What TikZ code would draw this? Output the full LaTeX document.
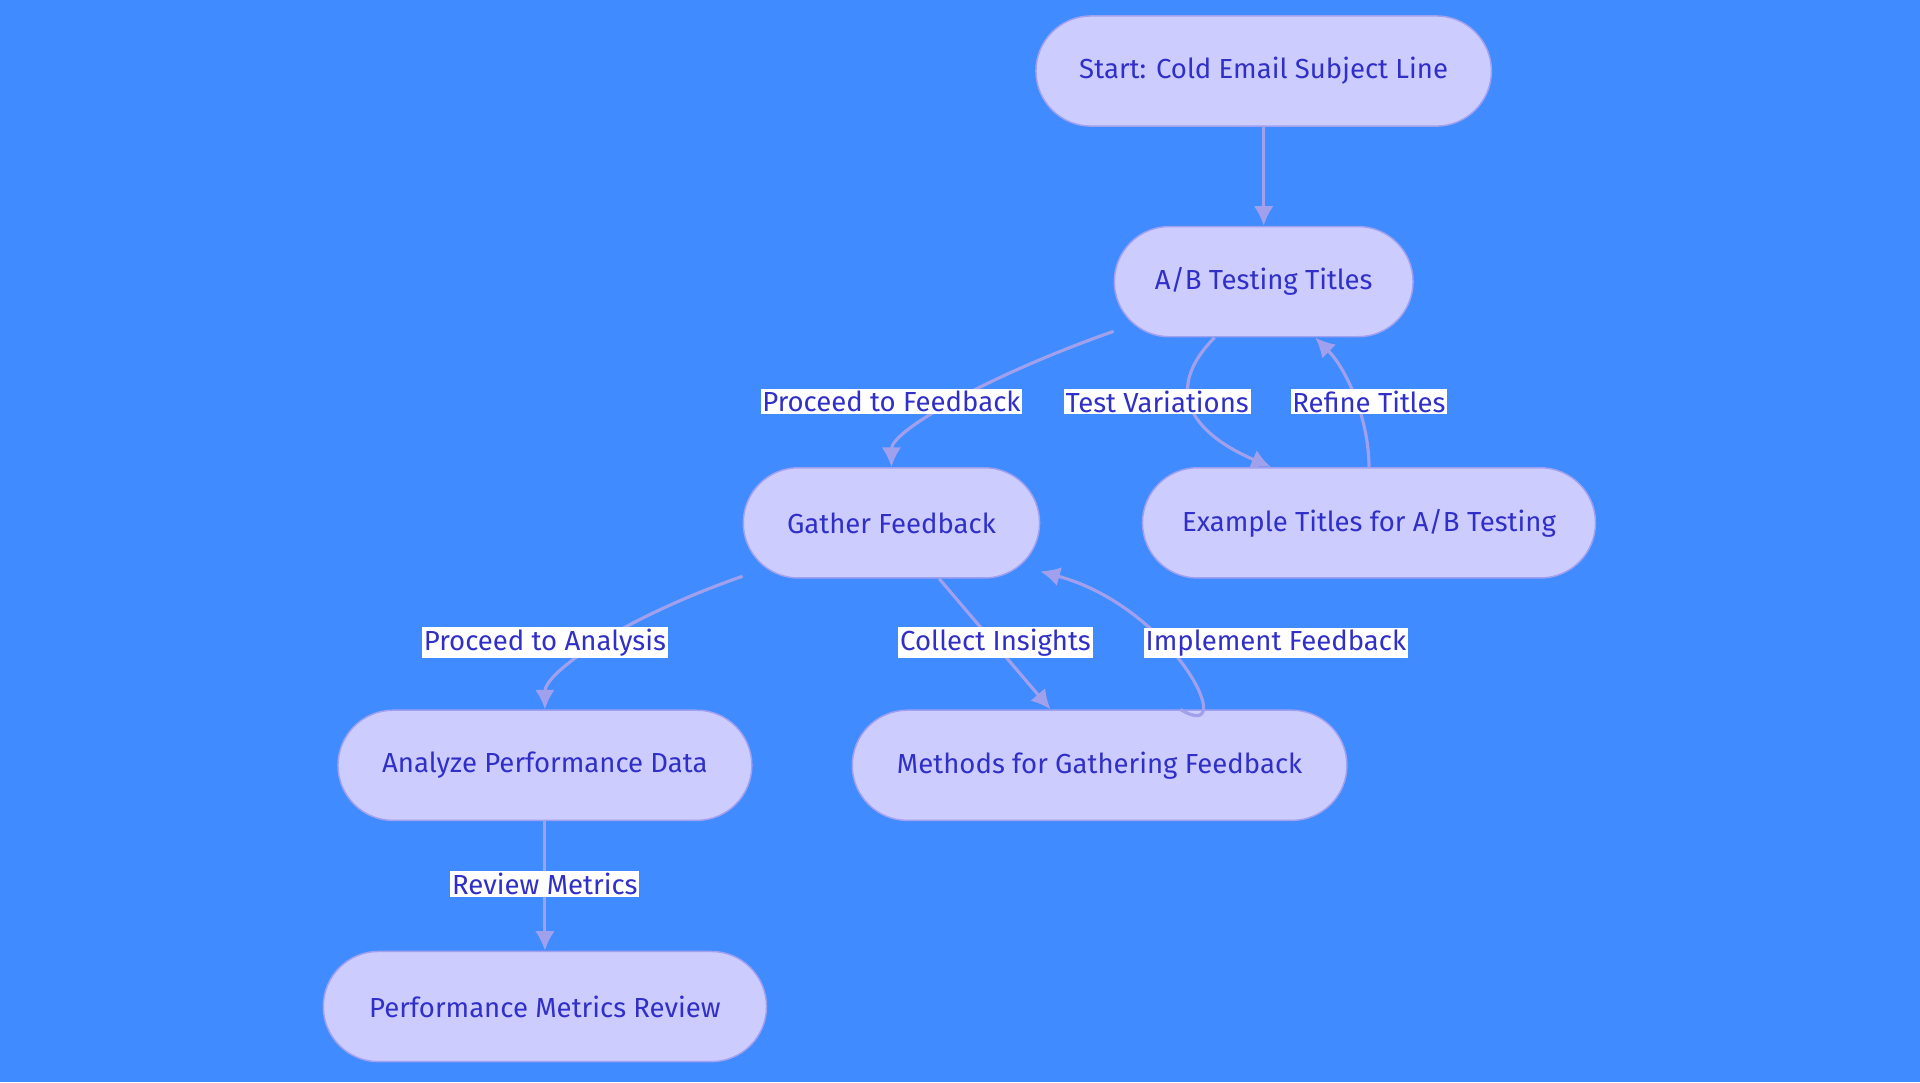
\documentclass[tikz,border=0pt]{standalone}
\usepackage{fontspec}
\setmainfont{Fira Sans}
\usetikzlibrary{calc,arrows.meta}
\definecolor{bg}{HTML}{408BFF}
\definecolor{nf}{HTML}{CCCCFF}
\definecolor{ns}{HTML}{A0A0F0}
\definecolor{tx}{HTML}{3030C8}
\definecolor{ed}{HTML}{A0A0EC}
\begin{document}
\begin{tikzpicture}[x=1pt,y=1pt,
 box/.style={draw=ns,line width=1.2pt,fill=nf,rounded corners=45pt,minimum height=90pt,text=tx,font=\fontsize{22.5}{26}\selectfont},
 lab/.style={fill=white,text=tx,inner sep=1.5pt,font=\fontsize{22.5}{26}\selectfont},
 e/.style={draw=ed,line width=2.6pt,-{Latex[length=16pt,width=16pt]}}]
\fill[bg] (0,0) rectangle (1568,-884);
\useasboundingbox (0,0) rectangle (1568,-884);
\node[box,minimum width=372pt] (st) at (1032,-58) {Start: Cold Email Subject Line};
\node[box,minimum width=244pt] (ab) at (1032,-230) {A/B Testing Titles};
\node[box,minimum width=242pt] (gf) at (728,-427) {Gather Feedback};
\node[box,minimum width=370pt] (ex) at (1118,-427) {Example Titles for A/B Testing};
\node[box,minimum width=338pt] (an) at (445,-625) {Analyze Performance Data};
\node[box,minimum width=404pt] (me) at (898,-625) {Methods for Gathering Feedback};
\node[box,minimum width=362pt] (pm) at (445,-822) {Performance Metrics Review};
\draw[e] (st) -- (ab);
\draw[e] ($(ab.south west)+(0,5)$) .. controls +(-100,-35) and +(0,30) .. (gf.north);
\draw[e] ($(ab.south)+(-40,0)$) .. controls +(-40,-40) and +(-70,30) .. ($(ex.north)+(-80,0)$);
\draw[e] (ex.north) .. controls +(0,40) and +(25,-25) .. ($(ab.south)+(42,0)$);
\draw[e] ($(gf.south west)+(0,2)$) .. controls +(-100,-35) and +(0,30) .. (an.north);
\draw[e] ($(gf.south)+(39,0)$) -- ($(me.north)+(-40,0)$);
\draw[e] ($(me.north)+(66,0)$) .. controls +(50,-30) and +(110,-30) .. ($(gf.south east)+(0,6)$);
\draw[e] (an) -- (pm);
\node[lab] (l1) at (728,-328) {Proceed to Feedback};
\node[lab] (l2) at (945,-328) {Test Variations};
\node[lab] (l3) at (1118,-328) {Refine Titles};
\node[lab] (l4) at (445,-525) {Proceed to Analysis};
\node[lab] (l5) at (813,-525) {Collect Insights};
\node[lab] (l6) at (1042,-525) {Implement Feedback};
\node[lab] (l7) at (445,-722) {Review Metrics};
\end{tikzpicture}
\end{document}
